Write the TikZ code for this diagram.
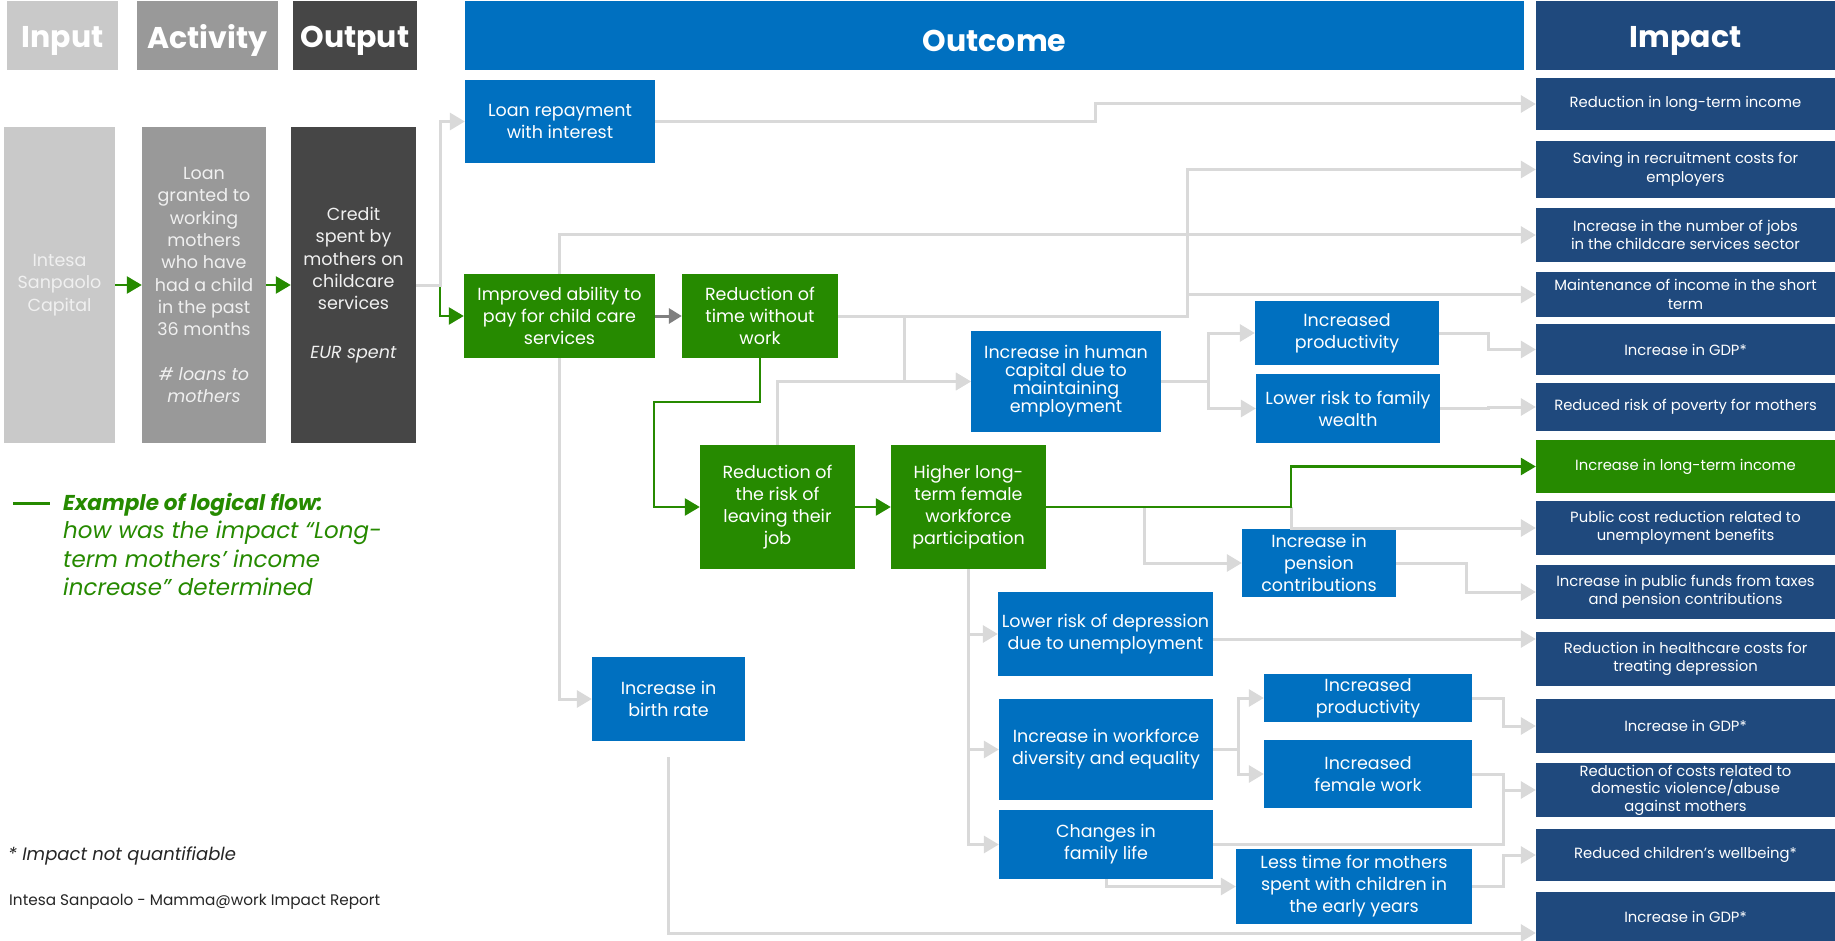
\documentclass[tikz,border=0pt]{standalone}
\usepackage{fontspec}
\setmainfont{Poppins}
\usetikzlibrary{arrows.meta,calc}
\definecolor{cIn}{HTML}{C9C9C9}
\definecolor{cInT}{HTML}{F0F0F0}
\definecolor{cAct}{HTML}{999999}
\definecolor{cOutp}{HTML}{464646}
\definecolor{cBlue}{HTML}{0070C0}
\definecolor{cNavy}{HTML}{1F497D}
\definecolor{cGreen}{HTML}{268A00}
\definecolor{cLine}{HTML}{D9D9D9}
\definecolor{cDark}{HTML}{7F7F7F}
\newcommand{\bx}[7]{%
 \pgfmathsetmacro{\bxw}{#5-#3}\pgfmathsetmacro{\bxh}{#6-#4}%
 \pgfmathsetmacro{\bxx}{(#3+#5)/2}\pgfmathsetmacro{\bxy}{(#4+#6)/2}%
 \node[#2, minimum width=\bxw pt, minimum height=\bxh pt] (#1) at (\bxx,\bxy) {#7};}
\newcommand{\hd}[1]{\raisebox{-5pt}[\height][\depth]{#1}}
\begin{document}
\begin{tikzpicture}[x=1pt,y=-1pt,
  base/.style={rectangle, inner sep=0pt, align=center, text=white},
  hdr/.style={base, font=\fontsize{30}{32}\selectfont\bfseries},
  gbox/.style={base, font=\fontsize{17.5}{22.3}\selectfont},
  obox/.style={base, fill=cBlue, font=\fontsize{17.5}{22}\selectfont},
  grbox/.style={base, fill=cGreen, font=\fontsize{17.5}{22}\selectfont},
  ibox/.style={base, fill=cNavy, font=\fontsize{14.8}{18.5}\selectfont},
  conn/.style={draw=cLine, line width=3pt},
  arr/.style={conn, -{Triangle[length=15pt,width=17pt]}},
  garr/.style={draw=cGreen, line width=2.6pt, -{Triangle[length=15pt,width=17pt]}},
  gline/.style={draw=cGreen, line width=2.6pt},
  darr/.style={draw=cDark, line width=3pt, -{Triangle[length=13pt,width=15pt]}}]
\useasboundingbox (0,0) rectangle (1835,941);
\fill[white] (0,0) rectangle (1835,941);
% headers
\bx{hIn}{hdr,fill=cIn}{7}{1}{118}{70}{\hd{Input}}
\bx{hAct}{hdr,fill=cAct}{137}{1}{278}{70}{\hd{Activity}}
\bx{hOut}{hdr,fill=cOutp}{293}{1}{417}{70}{\hd{Output}}
\bx{hOc}{hdr,fill=cBlue}{465}{1}{1524}{70}{\hd{Outcome}}
\bx{hImp}{hdr,fill=cNavy}{1536}{1}{1835}{70}{\hd{Impact}}
% input / activity / output
\bx{nIn}{gbox,fill=cIn,text=cInT}{4}{127}{115}{443}{Intesa\\Sanpaolo\\Capital}
\bx{nAct}{gbox,fill=cAct,text=cInT}{142}{127}{266}{443}{Loan\\granted to\\working\\mothers\\who have\\had a child\\in the past\\36 months\\[22pt]\textit{\# loans to}\\\textit{mothers}}
\bx{nOut}{gbox,fill=cOutp,text=cInT}{291}{127}{416}{443}{Credit\\spent by\\mothers on\\childcare\\services\\[26pt]\textit{EUR spent}}
% outcome
\bx{loan}{obox}{465}{80}{655}{163}{Loan repayment\\with interest}
\bx{imp}{grbox}{464}{274}{655}{358}{Improved ability to\\pay for child care\\services}
\bx{rtw}{grbox}{682}{274}{838}{358}{Reduction of\\time without\\work}
\bx{hc}{obox,font=\fontsize{17.5}{18}\selectfont}{971}{331}{1161}{432}{Increase in human\\capital due to\\maintaining\\employment}
\bx{ip1}{obox}{1255}{301}{1439}{365}{Increased\\productivity}
\bx{lw}{obox}{1256}{374}{1440}{443}{Lower risk to family\\wealth}
\bx{rr}{grbox}{700}{445}{855}{569}{Reduction of\\the risk of\\leaving their\\job}
\bx{hl}{grbox}{891}{445}{1046}{569}{Higher long-\\term female\\workforce\\participation}
\bx{pen}{obox}{1242}{529}{1396}{597}{Increase in\\pension\\contributions}
\bx{birth}{obox}{592}{657}{745}{741}{Increase in\\birth rate}
\bx{dep}{obox}{998}{592}{1213}{676}{Lower risk of depression\\due to unemployment}
\bx{div}{obox}{999}{699}{1213}{800}{Increase in workforce\\diversity and equality}
\bx{fam}{obox}{999}{810}{1213}{879}{Changes in\\family life}
\bx{ipb}{obox}{1264}{674}{1472}{722}{Increased\\productivity}
\bx{fw}{obox}{1264}{740}{1472}{808}{Increased\\female work}
\bx{lt}{obox}{1236}{849}{1472}{924}{Less time for mothers\\spent with children in\\the early years}
% impact
\bx{ia}{ibox}{1536}{78}{1835}{130}{Reduction in long-term income}
\bx{ib}{ibox}{1536}{141}{1835}{198}{Saving in recruitment costs for\\employers}
\bx{ic}{ibox}{1536}{208}{1835}{262}{Increase in the number of jobs\\in the childcare services sector}
\bx{id}{ibox}{1536}{272}{1835}{317}{Maintenance of income in the short\\term}
\bx{ie}{ibox}{1536}{324}{1835}{375}{Increase in GDP*}
\bx{if}{ibox}{1536}{383}{1835}{431}{Reduced risk of poverty for mothers}
\bx{ig}{ibox,fill=cGreen}{1536}{440}{1835}{493}{Increase in long-term income}
\bx{ih}{ibox}{1536}{501}{1835}{555}{Public cost reduction related to\\unemployment benefits}
\bx{ii}{ibox}{1536}{565}{1835}{619}{Increase in public funds from taxes\\and pension contributions}
\bx{ij}{ibox}{1536}{632}{1835}{686}{Reduction in healthcare costs for\\treating depression}
\bx{ik}{ibox}{1536}{699}{1835}{753}{Increase in GDP*}
\bx{il}{ibox,font=\fontsize{14.8}{17.5}\selectfont}{1536}{763}{1835}{817}{Reduction of costs related to\\domestic violence/abuse\\against mothers}
\bx{im}{ibox}{1536}{829}{1835}{881}{Reduced children’s wellbeing*}
\bx{iz}{ibox}{1536}{892}{1835}{941}{Increase in GDP*}
% bus coordinates
\coordinate (b0) at (440,0);
\coordinate (b1) at (1187,0);
\coordinate (b2) at (904,0);
\coordinate (b3) at (1208,0);
\coordinate (b4) at (1488,0);
\coordinate (b5) at (1291,0);
\coordinate (b6) at (1144,0);
\coordinate (b7) at (1466,0);
\coordinate (b8) at (1238,0);
\coordinate (b9) at (1503,0);
\coordinate (bl) at (1095,0);
\coordinate (bg) at (654,402);
% left arrows
\draw[garr] (nIn.east) -- (nAct.west);
\draw[garr] (nAct.east) -- (nOut.west);
\draw[garr] (nOut.east) -| (b0 |- imp.west) -- (imp.west);
\draw[arr] (nOut.east) -| (b0 |- loan.west) -- (loan.west);
% gray connectors
\draw[arr] (loan.east) -| (bl |- ia.west) -- (ia.west);
\draw[arr] (imp.north) |- (ic.west);
\draw[arr] (imp.south) |- (birth.west);
\draw[darr] (imp.east) -- (rtw.west);
\draw[arr] (rtw.east) -| (b1 |- ib.west) -- (ib.west);
\draw[arr] (b1 |- id.west) -- (id.west);
\draw[arr] (b2 |- rtw.east) |- (hc.west);
\draw[arr] (rr.north) |- (hc.west);
\draw[conn] (hc.east) -- (b3 |- hc.east);
\draw[arr] (b3 |- hc.east) |- (ip1.west);
\draw[arr] (b3 |- hc.east) |- (lw.west);
\draw[arr] (ip1.east) -| (b4 |- ie.west) -- (ie.west);
\draw[arr] (lw.east) -| (b4 |- if.west) -- (if.west);
\draw[arr] (b5 |- hl.east) |- (ih.west);
\draw[arr] (b6 |- hl.east) |- (pen.west);
\draw[arr] (pen.east) -| (b7 |- ii.west) -- (ii.west);
\draw[arr] (hl.south) |- (dep.west);
\draw[arr] (hl.south) |- (div.west);
\draw[arr] (hl.south) |- (fam.west);
\draw[arr] (dep.east |- 0,639) -- (ij.west |- 0,639);
\draw[conn] (div.east) -- (b8 |- div.east);
\draw[arr] (b8 |- div.east) |- (ipb.west);
\draw[arr] (b8 |- div.east) |- (fw.west);
\draw[arr] (ipb.east) -| (b9 |- ik.west) -- (ik.west);
\draw[arr] (fw.east) -| (b9 |- il.west) -- (il.west);
\draw[conn] (fam.east) -| (b9 |- il.west);
\draw[arr] (fam.south) |- (lt.west);
\draw[arr] (lt.east) -| (b9 |- im.west) -- (im.west);
\draw[arr] ([yshift=-16pt]birth.south) |- (iz.west |- 0,933);
% green flow
\draw[garr] (rtw.south) |- (bg) |- (rr.west);
\draw[garr] (rr.east) -- (hl.west);
\draw[garr] (hl.east) -| (b5 |- ig.west) -- (ig.west);
% legend
\draw[gline, line width=3pt] (13,503) -- (50,503);
\node[anchor=north west, inner sep=0pt, align=left, text=cGreen, font=\fontsize{23}{28.5}\selectfont] (leg) at (63,493) {{\fontsize{21.5}{28.5}\selectfont\textbf{\textit{Example of logical flow:}}}\\\textit{how was the impact “Long-}\\\textit{term mothers’ income}\\\textit{increase” determined}};
\node[anchor=west, inner sep=0pt, text=black!85, font=\fontsize{18}{20}\selectfont\itshape] (note) at (8,856) {* Impact not quantifiable};
\node[anchor=west, inner sep=0pt, text=black!85, font=\fontsize{15.3}{18}\selectfont] (src) at (9,902) {Intesa Sanpaolo - Mamma@work Impact Report};
\end{tikzpicture}
\end{document}
